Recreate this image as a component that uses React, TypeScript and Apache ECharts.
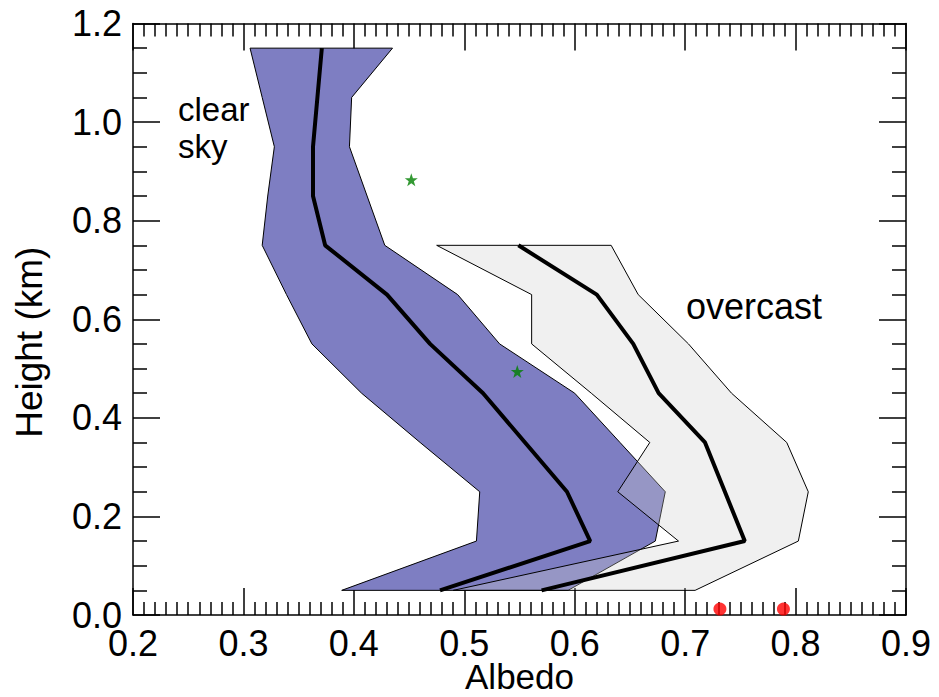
import React, { useEffect, useRef } from "react";
import * as echarts from "echarts";

// Clear-sky band (heights in km, albedo values)
const clearHeights = [0.05, 0.15, 0.25, 0.35, 0.45, 0.55, 0.65, 0.75, 0.85, 0.95, 1.05, 1.15];
const clearLow = [0.389, 0.511, 0.514, 0.46, 0.407, 0.362, 0.339, 0.317, 0.322, 0.328, 0.317, 0.306];
const clearHigh = [0.594, 0.673, 0.682, 0.641, 0.6, 0.532, 0.494, 0.428, 0.412, 0.396, 0.398, 0.435];
const clearMedian = [0.478, 0.614, 0.593, 0.555, 0.517, 0.469, 0.43, 0.374, 0.363, 0.363, 0.367, 0.371];

// Overcast band
const overHeights = [0.05, 0.15, 0.25, 0.35, 0.45, 0.55, 0.65, 0.75];
const overLow = [0.49, 0.694, 0.639, 0.668, 0.615, 0.561, 0.561, 0.475];
const overHigh = [0.709, 0.8025, 0.8115, 0.792, 0.742, 0.703, 0.6575, 0.633];
const overMedian = [0.57, 0.754, 0.736, 0.718, 0.676, 0.653, 0.62, 0.549];

// Markers
const stars = [
  [0.452, 0.883],
  [0.548, 0.494],
];
const dots = [
  [0.7315, 0.012],
  [0.789, 0.012],
];

const FONT = "'Liberation Sans', Arial, Helvetica, sans-serif";
const STAR =
  "path://M12,0 L14.9,8.1 L23.4,8.1 L16.5,13.1 L19.1,21.2 L12,16.2 L4.9,21.2 L7.5,13.1 L0.6,8.1 L9.1,8.1 Z";

function bandPolygon(heights: number[], low: number[], high: number[]) {
  const pts: number[][] = [];
  for (let i = 0; i < heights.length; i++) pts.push([low[i], heights[i]]);
  for (let i = heights.length - 1; i >= 0; i--) pts.push([high[i], heights[i]]);
  return pts;
}

function line(heights: number[], vals: number[]) {
  return heights.map((h, i) => [vals[i], h]);
}

export default function App() {
  const ref = useRef<HTMLDivElement>(null);

  useEffect(() => {
    document.body.style.margin = "0";
    const chart = echarts.init(ref.current!, null, { renderer: "svg" });

    const clearPoly = bandPolygon(clearHeights, clearLow, clearHigh);
    const overPoly = bandPolygon(overHeights, overLow, overHigh);

    const polySeries = (pts: number[][], fill: string, z: number) => ({
      type: "custom",
      coordinateSystem: "cartesian2d",
      xAxisIndex: 0,
      yAxisIndex: 0,
      z,
      silent: true,
      data: pts,
      encode: { x: 0, y: 1 },
      renderItem: (params: any, api: any) => {
        if (params.dataIndex !== 0) return null;
        const points = pts.map((p) => api.coord(p));
        return {
          type: "polygon",
          shape: { points },
          style: { fill, stroke: "#000", lineWidth: 1 },
        };
      },
    });

    const lineStyle = { color: "#000", width: 1.5 };
    const baseX = {
      type: "value",
      min: 0.2,
      max: 0.9,
      interval: 0.1,
      axisLine: { show: true, onZero: false, lineStyle },
      axisTick: { show: true, inside: true, length: 27, lineStyle },
      minorTick: { show: true, splitNumber: 10, length: 13, lineStyle },
      splitLine: { show: false },
      minorSplitLine: { show: false },
    };
    const baseY = {
      type: "value",
      min: 0,
      max: 1.2,
      interval: 0.2,
      axisLine: { show: true, onZero: false, lineStyle },
      axisTick: { show: true, inside: true, length: 27, lineStyle },
      minorTick: { show: true, splitNumber: 4, length: 14, lineStyle },
      splitLine: { show: false },
      minorSplitLine: { show: false },
    };

    chart.setOption({
      animation: false,
      backgroundColor: "#fff",
      grid: {
        left: 133,
        right: 33,
        top: 23.5,
        bottom: 82,
        containLabel: false,
        outerBoundsMode: "none",
      },
      xAxis: [
        {
          ...baseX,
          position: "bottom",
          axisLabel: {
            formatter: (v: number) => v.toFixed(1),
            fontSize: 36,
            lineHeight: 28,
            color: "#000",
            fontFamily: FONT,
            margin: 14,
          },
          name: "Albedo",
          nameLocation: "middle",
          nameGap: 46,
          nameMoveOverlap: false,
          nameTextStyle: { fontSize: 35, lineHeight: 30, color: "#000", fontFamily: FONT },
        },
        { ...baseX, position: "top", axisLabel: { show: false } },
      ],
      yAxis: [
        {
          ...baseY,
          position: "left",
          axisLabel: {
            formatter: (v: number) => v.toFixed(1),
            fontSize: 36,
            lineHeight: 26,
            color: "#000",
            fontFamily: FONT,
            margin: 11,
          },
          name: "Height (km)",
          nameLocation: "middle",
          nameGap: 85,
          nameMoveOverlap: false,
          nameTextStyle: {
            fontSize: 37,
            color: "#000",
            fontFamily: FONT,
            padding: [0, 46, 0, 0],
          },
        },
        { ...baseY, position: "right", axisLabel: { show: false } },
      ],
      series: [
        polySeries(clearPoly, "#7e7ec2", 1),
        polySeries(overPoly, "rgba(205,205,205,0.3)", 2),
        {
          type: "line",
          xAxisIndex: 0,
          yAxisIndex: 0,
          z: 3,
          data: line(clearHeights, clearMedian),
          showSymbol: false,
          symbol: "none",
          lineStyle: { color: "#000", width: 4 },
          silent: true,
        },
        {
          type: "line",
          xAxisIndex: 0,
          yAxisIndex: 0,
          z: 3,
          data: line(overHeights, overMedian),
          showSymbol: false,
          symbol: "none",
          lineStyle: { color: "#000", width: 4 },
          silent: true,
        },
        {
          type: "scatter",
          xAxisIndex: 0,
          yAxisIndex: 0,
          z: 4,
          data: stars,
          symbol: STAR,
          symbolSize: 13,
          itemStyle: { color: "#008000" },
          silent: true,
        },
        {
          type: "scatter",
          xAxisIndex: 0,
          yAxisIndex: 0,
          z: 4,
          clip: true,
          data: dots,
          symbol: "circle",
          symbolSize: 13,
          itemStyle: { color: "#ff0000" },
          silent: true,
        },
      ],
      graphic: [
        {
          type: "text",
          left: 178,
          top: 91,
          style: {
            text: "clear\nsky",
            fontSize: 33,
            lineHeight: 37,
            fontFamily: FONT,
            fill: "#000",
          },
          silent: true,
        },
        {
          type: "text",
          left: 686,
          top: 288,
          style: { text: "overcast", fontSize: 36, fontFamily: FONT, fill: "#000" },
          silent: true,
        },
      ],
    });

    return () => chart.dispose();
  }, []);

  return (
    <div
      ref={ref}
      style={{ position: "fixed", left: 0, top: 0, width: 939, height: 697 }}
    />
  );
}
